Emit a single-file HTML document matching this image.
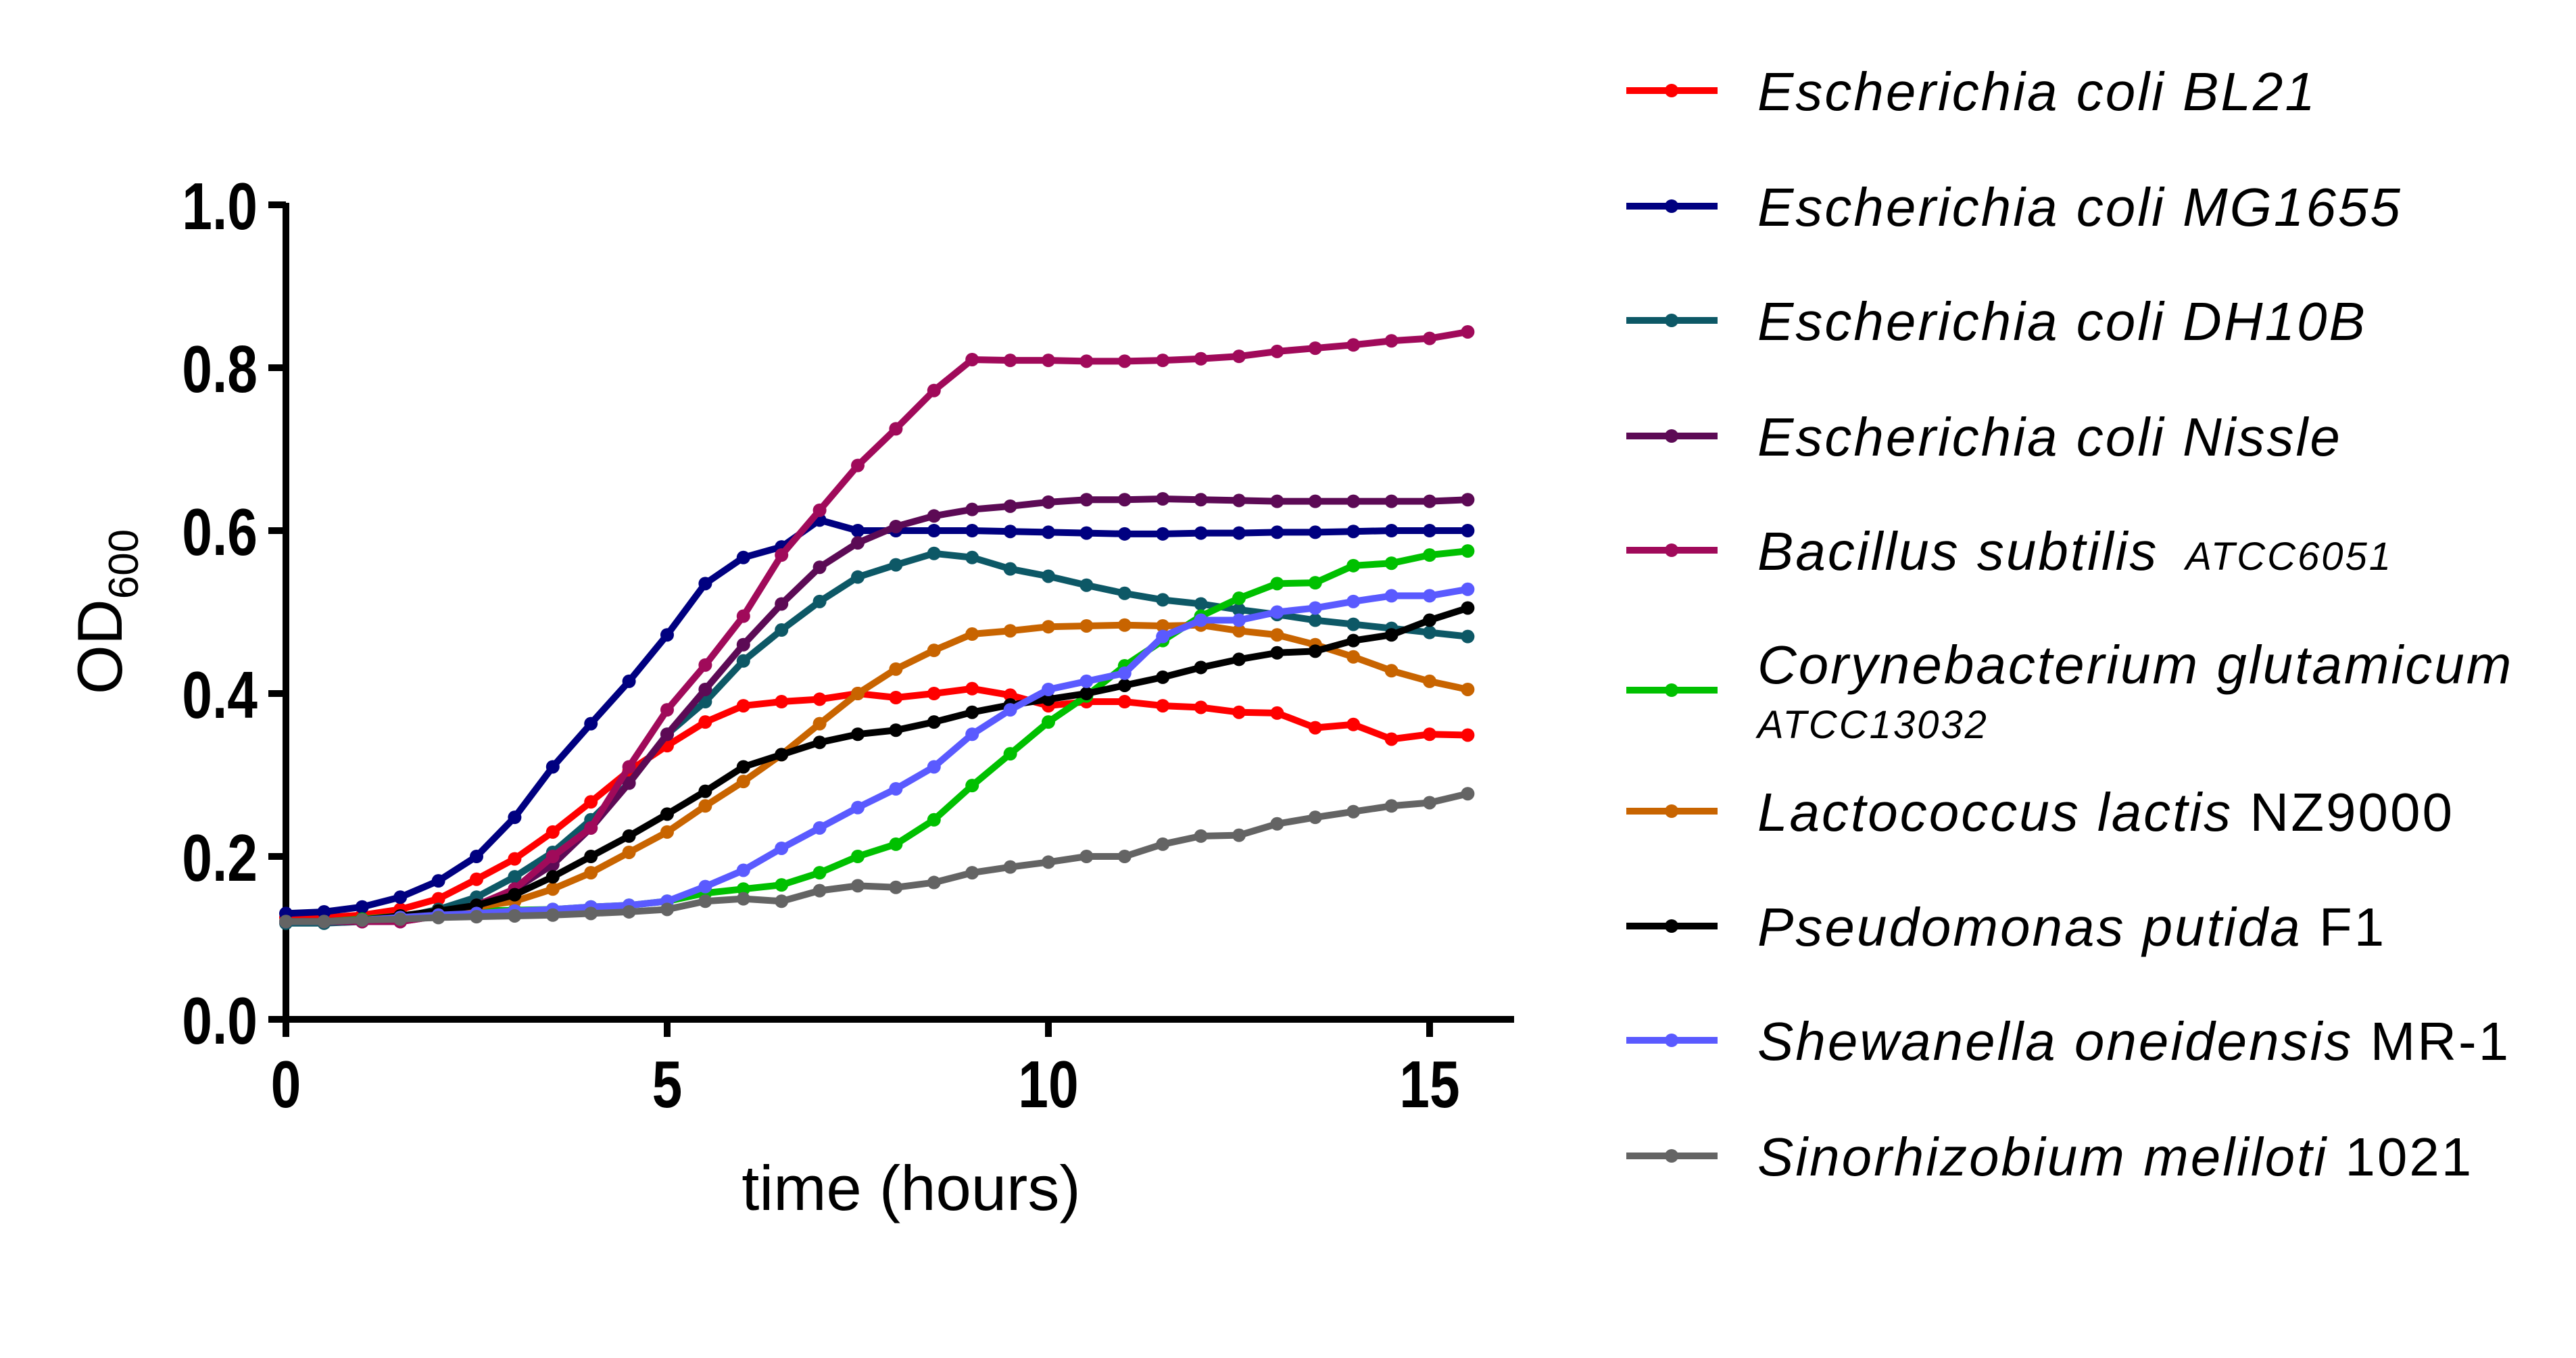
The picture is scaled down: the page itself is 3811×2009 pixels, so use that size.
<!DOCTYPE html>
<html><head><meta charset="utf-8"><style>
html,body{margin:0;padding:0;background:#fff;}
svg{display:block;}
.tick{font-family:"Liberation Sans",sans-serif;font-weight:bold;font-size:98px;fill:#000;}
.ttl{font-family:"Liberation Sans",sans-serif;font-size:94px;fill:#000;}
.leg{font-family:"Liberation Sans",sans-serif;font-size:80px;fill:#000;letter-spacing:3px;}
</style></head><body>
<svg id="chart" width="3811" height="2009" viewBox="0 0 3811 2009" xmlns="http://www.w3.org/2000/svg">
<g id="axes"></g>
<g id="series"></g>
<g id="legend"></g>
</svg>
<script>
const times = [0,0.5,1,1.5,2,2.5,3,3.5,4,4.5,5,5.5,6,6.5,7,7.5,8,8.5,9,9.5,10,10.5,11,11.5,12,12.5,13,13.5,14,14.5,15,15.5];
const xTicks = [0,5,10,15];
const yTicks = [0.0,0.2,0.4,0.6,0.8,1.0];
const yTickLabels = ["0.0","0.2","0.4","0.6","0.8","1.0"];
const seriesNames = ["Escherichia coli BL21","Escherichia coli MG1655","Escherichia coli DH10B","Escherichia coli Nissle","Bacillus subtilis ATCC6051","Corynebacterium glutamicum ATCC13032","Lactococcus lactis NZ9000","Pseudomonas putida F1","Shewanella oneidensis MR-1","Sinorhizobium meliloti 1021"];
const seriesColors = ["#ff0000","#000080","#0d5866","#5c0a55","#a00a5a","#00c000","#c86400","#000000","#5a5aff","#646464"];
const bl21 = [0.125,0.125,0.128,0.135,0.148,0.172,0.197,0.23,0.267,0.305,0.336,0.365,0.385,0.39,0.393,0.40,0.395,0.40,0.406,0.398,0.385,0.39,0.39,0.385,0.383,0.377,0.376,0.358,0.362,0.344,0.35,0.349];
const mg1655 = [0.13,0.132,0.138,0.15,0.17,0.2,0.248,0.31,0.363,0.415,0.472,0.535,0.567,0.58,0.613,0.6,0.6,0.6,0.6,0.599,0.598,0.597,0.596,0.596,0.597,0.597,0.598,0.598,0.599,0.6,0.6,0.6];
const dh10b = [0.118,0.118,0.12,0.125,0.135,0.15,0.175,0.205,0.245,0.29,0.35,0.39,0.44,0.478,0.513,0.543,0.558,0.572,0.567,0.553,0.544,0.533,0.523,0.515,0.51,0.503,0.497,0.49,0.485,0.48,0.475,0.47];
const nissle = [0.12,0.12,0.12,0.12,0.127,0.14,0.16,0.19,0.235,0.29,0.35,0.405,0.46,0.51,0.555,0.585,0.605,0.618,0.626,0.63,0.635,0.638,0.638,0.639,0.638,0.637,0.636,0.636,0.636,0.636,0.636,0.638];
const bacillus = [0.12,0.12,0.12,0.12,0.127,0.14,0.16,0.2,0.235,0.31,0.38,0.435,0.495,0.57,0.625,0.68,0.725,0.772,0.81,0.809,0.809,0.808,0.808,0.809,0.811,0.814,0.82,0.824,0.828,0.833,0.836,0.844];
const coryne = [0.12,0.12,0.123,0.127,0.13,0.133,0.134,0.135,0.138,0.14,0.145,0.155,0.16,0.165,0.18,0.2,0.215,0.245,0.287,0.326,0.365,0.397,0.434,0.465,0.495,0.517,0.535,0.536,0.557,0.56,0.57,0.575];
const lacto = [0.12,0.12,0.122,0.127,0.133,0.138,0.145,0.16,0.18,0.205,0.23,0.262,0.292,0.325,0.363,0.4,0.43,0.453,0.473,0.477,0.482,0.483,0.484,0.483,0.484,0.477,0.472,0.46,0.445,0.428,0.415,0.405];
const putida = [0.12,0.12,0.122,0.127,0.133,0.14,0.153,0.175,0.2,0.225,0.252,0.28,0.31,0.325,0.34,0.35,0.355,0.365,0.377,0.386,0.393,0.4,0.41,0.42,0.432,0.442,0.45,0.452,0.465,0.472,0.49,0.505];
const shewanella = [0.12,0.12,0.122,0.125,0.128,0.13,0.133,0.135,0.138,0.14,0.145,0.163,0.183,0.21,0.235,0.26,0.283,0.31,0.35,0.38,0.405,0.415,0.425,0.47,0.49,0.49,0.50,0.505,0.513,0.52,0.52,0.528];
const sino = [0.12,0.12,0.122,0.123,0.125,0.126,0.127,0.128,0.13,0.132,0.135,0.145,0.148,0.145,0.158,0.164,0.162,0.168,0.18,0.187,0.193,0.2,0.2,0.215,0.225,0.226,0.24,0.248,0.255,0.262,0.266,0.277];
const allSeries = [bl21,mg1655,dh10b,nissle,bacillus,coryne,lacto,putida,shewanella,sino];

const NS="http://www.w3.org/2000/svg";
const X0=423, PXH=112.8, Y0=1508, PXU=1205, XEND=2240;
const xS = t => X0 + t*PXH;
const yS = v => Y0 - v*PXU;
function mk(tag, attrs, parent){const e=document.createElementNS(NS,tag);for(const k in attrs)e.setAttribute(k,attrs[k]);parent.appendChild(e);return e;}
const axes=document.getElementById('axes');
let e;
e=mk('line',{x1:X0,y1:yS(1.0)-3,x2:X0,y2:Y0+5,stroke:'#000','stroke-width':10},axes);


e=mk('line',{x1:X0-5,y1:Y0,x2:XEND,y2:Y0,stroke:'#000','stroke-width':10},axes);


yTicks.forEach((v,i)=>{
  const t=mk('line',{x1:X0-26,y1:yS(v),x2:X0,y2:yS(v),stroke:'#000','stroke-width':10},axes);
  
  
  const g=mk('g',{transform:'translate('+(X0-42)+','+(yS(v)+36)+') scale(0.82,1)'},axes);
  const l=mk('text',{x:0,y:0,'text-anchor':'end',class:'tick'},g);
  l.textContent=yTickLabels[i];
  
  
});
xTicks.forEach(v=>{
  const t=mk('line',{x1:xS(v),y1:Y0,x2:xS(v),y2:Y0+26,stroke:'#000','stroke-width':10},axes);
  
  
  const g=mk('g',{transform:'translate('+xS(v)+','+(Y0+130)+') scale(0.82,1)'},axes);
  const l=mk('text',{x:0,y:0,'text-anchor':'middle',class:'tick'},g);
  l.textContent=String(v);
  
  
});
e=mk('text',{x:xS(8.2),y:1790,'text-anchor':'middle',class:'ttl'},axes);
e.textContent='time (hours)';


e=mk('text',{transform:'translate(180,905) rotate(-90)','text-anchor':'middle',class:'ttl'},axes);
e.innerHTML='OD<tspan style="font-size:62px" dy="24">600</tspan>';



const sg=document.getElementById('series');
allSeries.forEach((vals,si)=>{
  const g=mk('g',{},sg);
  
  
  const pts=vals.map((v,i)=>xS(times[i])+','+yS(v)).join(' ');
  const pl=mk('polyline',{points:pts,fill:'none',stroke:seriesColors[si],'stroke-width':10,'stroke-linejoin':'round'},g);
  
  
  vals.forEach((v,i)=>{
    const c=mk('circle',{cx:xS(times[i]),cy:yS(v),r:10,fill:seriesColors[si]},g);
    
    
  });
});

const lg=document.getElementById('legend');
const rows=[134,305,474,645,814,982,1200,1370,1539,1710];
const labels=[
 '<tspan font-style="italic">Escherichia coli BL21</tspan>',
 '<tspan font-style="italic">Escherichia coli MG1655</tspan>',
 '<tspan font-style="italic">Escherichia coli DH10B</tspan>',
 '<tspan font-style="italic">Escherichia coli Nissle</tspan>',
 '<tspan font-style="italic">Bacillus subtilis</tspan><tspan font-style="italic" style="font-size:58px" dx="40">ATCC6051</tspan>',
 '<tspan font-style="italic">Corynebacterium  glutamicum</tspan>',
 '<tspan font-style="italic">Lactococcus lactis</tspan> NZ9000',
 '<tspan font-style="italic">Pseudomonas putida</tspan> F1',
 '<tspan font-style="italic">Shewanella oneidensis</tspan> MR-1',
 '<tspan font-style="italic">Sinorhizobium meliloti</tspan> 1021'];
rows.forEach((y,i)=>{
  const g=mk('g',{},lg);
  
  
  const ly = i===5 ? 1021 : y;
  mk('line',{x1:2406,y1:ly,x2:2541,y2:ly,stroke:seriesColors[i],'stroke-width':10},g);
  mk('circle',{cx:2473,cy:ly,r:10,fill:seriesColors[i]},g);
  const t=mk('text',{x:2600,y:y+29,class:'leg'},g);
  t.innerHTML=labels[i];
  if(i===5){
    const t2=mk('text',{x:2600,y:1092,class:'leg',style:'font-size:58px;font-style:italic'},g);
    t2.textContent='ATCC13032';
  }
});
</script>
</body></html>
